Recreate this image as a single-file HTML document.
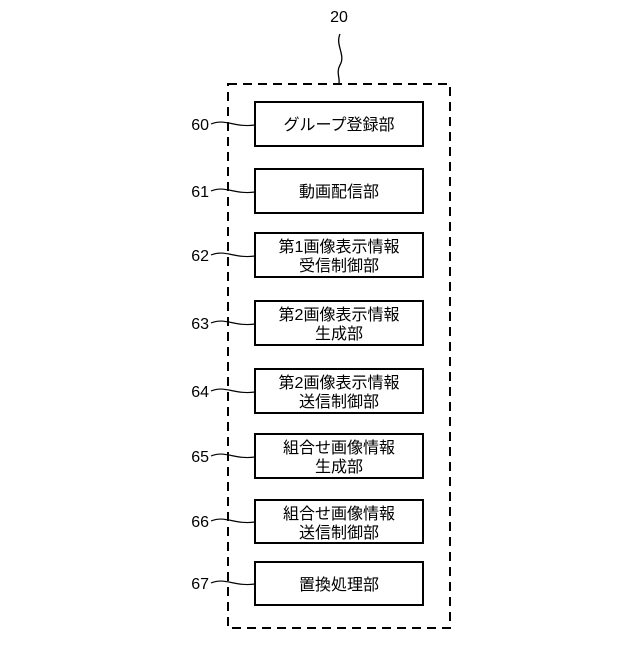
<!DOCTYPE html>
<html><head><meta charset="utf-8"><style>html,body{margin:0;padding:0;background:#fff}</style></head>
<body>
<svg width="640" height="640" xmlns="http://www.w3.org/2000/svg" font-family="Liberation Sans, Noto Sans CJK JP, sans-serif">
<rect x="0" y="0" width="640" height="640" fill="#fff"/>
<text x="339" y="22" font-size="16" text-anchor="middle">20</text>
<path d="M340 34 C335 45,346 55,340 65 C336 72,340 78,339 83" fill="none" stroke="#000" stroke-width="1.3"/>
<rect x="228" y="84" width="222" height="544" fill="none" stroke="#000" stroke-width="2" stroke-dasharray="9,6"/>
<g fill="none" stroke="#000" stroke-width="2">
<rect x="255" y="102" width="168" height="44"/>
<rect x="255" y="169" width="168" height="44"/>
<rect x="255" y="233" width="168" height="44"/>
<rect x="255" y="301" width="168" height="44"/>
<rect x="255" y="369" width="168" height="44"/>
<rect x="255" y="434" width="168" height="44"/>
<rect x="255" y="500" width="168" height="43"/>
<rect x="255" y="562" width="168" height="43"/>
</g>
<g fill="none" stroke="#000" stroke-width="1.2">
<path d="M211 124 C225 118,235 128,255 125"/>
<path d="M211 191 C225 185,235 195,255 192"/>
<path d="M211 255 C225 249,235 259,255 256"/>
<path d="M211 323 C225 317,235 327,255 324"/>
<path d="M211 391 C225 385,235 395,255 392"/>
<path d="M211 456 C225 450,235 460,255 457"/>
<path d="M211 521 C225 515,235 525,255 522"/>
<path d="M211 583 C225 577,235 587,255 584"/>
</g>
<g font-size="16" text-anchor="end">
<text x="209" y="130">60</text>
<text x="209" y="197">61</text>
<text x="209" y="261">62</text>
<text x="209" y="329">63</text>
<text x="209" y="397">64</text>
<text x="209" y="462">65</text>
<text x="209" y="527">66</text>
<text x="209" y="589">67</text>
</g>
<g font-size="16" text-anchor="middle">
<text x="339" y="130">グループ登録部</text>
<text x="339" y="197">動画配信部</text>
<text x="339" y="252">第1画像表示情報</text>
<text x="339" y="271">受信制御部</text>
<text x="339" y="320">第2画像表示情報</text>
<text x="339" y="339">生成部</text>
<text x="339" y="388">第2画像表示情報</text>
<text x="339" y="407">送信制御部</text>
<text x="339" y="453">組合せ画像情報</text>
<text x="339" y="472">生成部</text>
<text x="339" y="519">組合せ画像情報</text>
<text x="339" y="538">送信制御部</text>
<text x="339" y="590">置換処理部</text>
</g>
</svg>
</body></html>
